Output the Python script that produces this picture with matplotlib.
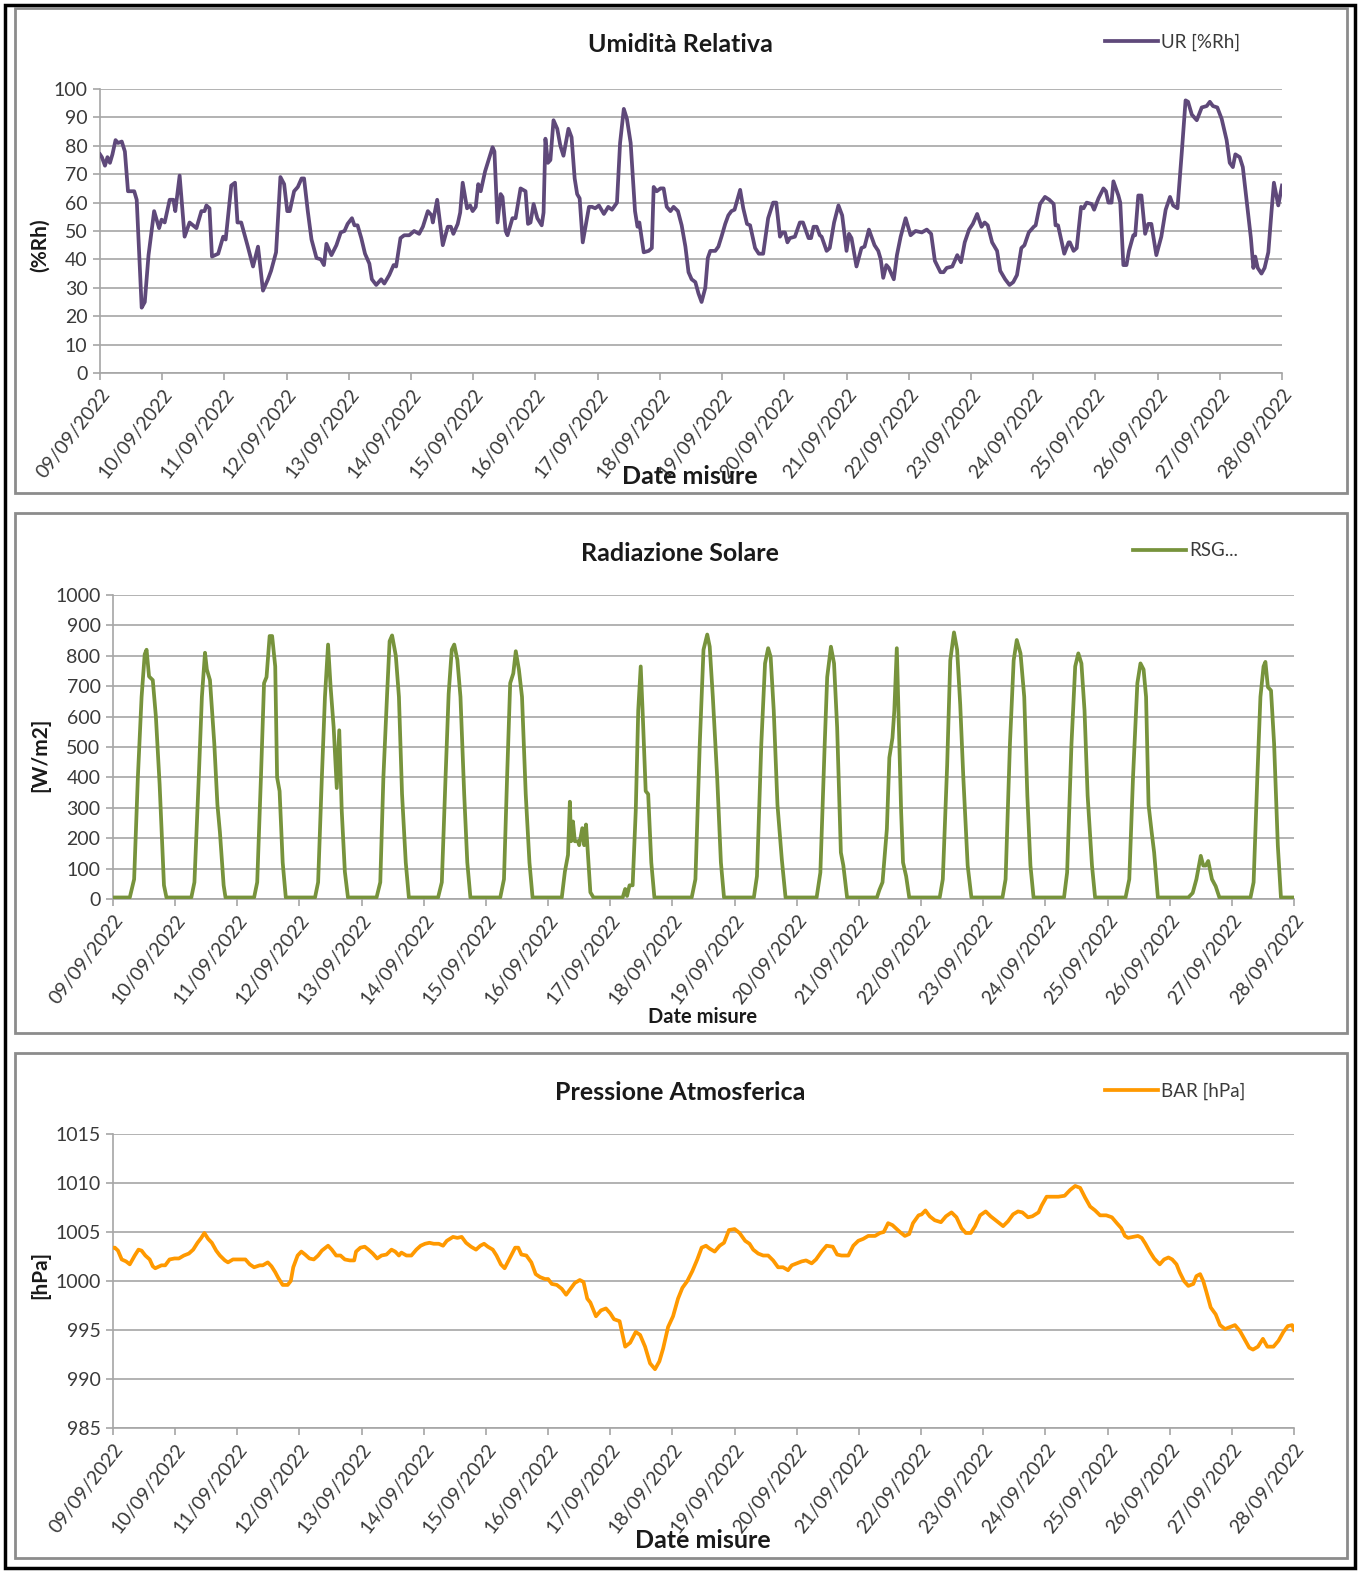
import matplotlib
matplotlib.use("Agg")
import matplotlib.pyplot as plt
from matplotlib.patches import Rectangle

plt.rcParams['font.family'] = ['Lato', 'DejaVu Sans']

# giorni dal 09/09/2022 00:00
date_labels = ["%02d/09/2022" % d for d in range(9, 29)]

# Umidita relativa (giorno, %Rh)
ur_pts = [
    (0.0, 77), (0.03, 76), (0.08, 73), (0.12, 76), (0.16, 74), (0.2, 77), (0.25, 82), (0.29, 81),
    (0.35, 81.5), (0.40, 78), (0.45, 64), (0.51, 64), (0.55, 64), (0.59, 61), (0.67, 23), (0.72, 25),
    (0.78, 41.5), (0.87, 57), (0.95, 51), (0.99, 54), (1.04, 53), (1.12, 61), (1.18, 61), (1.21, 57),
    (1.28, 69.5), (1.36, 48), (1.44, 53), (1.55, 51), (1.63, 57), (1.68, 57), (1.71, 59), (1.76, 58),
    (1.80, 41), (1.90, 42), (1.98, 48), (2.02, 47), (2.11, 66), (2.17, 67), (2.21, 53), (2.27, 53),
    (2.37, 45), (2.46, 37.5), (2.54, 44.5), (2.62, 29), (2.70, 33), (2.75, 36), (2.83, 42.5), (2.90, 69),
    (2.96, 66.5), (3.01, 57), (3.05, 57), (3.12, 64), (3.18, 65.5), (3.24, 68.5), (3.28, 68.5), (3.34, 57),
    (3.40, 47), (3.48, 40.5), (3.55, 40), (3.60, 38), (3.64, 45.5), (3.72, 41.5), (3.80, 45), (3.87, 49.5),
    (3.93, 50), (3.98, 52.5), (4.05, 54.5), (4.09, 52), (4.14, 52), (4.20, 47.5), (4.26, 42), (4.33, 38.5),
    (4.37, 33), (4.44, 31), (4.52, 33), (4.57, 31.5), (4.65, 34.5), (4.72, 38), (4.76, 37.5), (4.83, 47.5),
    (4.89, 48.5), (4.97, 48.5), (5.05, 50), (5.13, 49), (5.19, 51.5), (5.27, 57), (5.33, 55.5), (5.35, 53),
    (5.42, 61), (5.51, 45), (5.59, 51.5), (5.64, 51.5), (5.68, 49), (5.75, 52.5), (5.79, 56.5), (5.83, 67),
    (5.90, 58), (5.95, 59), (5.99, 57), (6.04, 58.5), (6.08, 66.5), (6.12, 64), (6.19, 71), (6.26, 76),
    (6.31, 79.5), (6.34, 78), (6.39, 53), (6.44, 63), (6.47, 62), (6.52, 50), (6.55, 48.5), (6.63, 54.5),
    (6.68, 54.5), (6.76, 65), (6.84, 64), (6.88, 52.5), (6.92, 53), (6.97, 59.5), (7.03, 54.5), (7.10, 52),
    (7.13, 56.5), (7.16, 82.5), (7.20, 74), (7.24, 75), (7.29, 89), (7.35, 86), (7.40, 80), (7.45, 76.5),
    (7.53, 86), (7.58, 83), (7.63, 68.5), (7.67, 63), (7.71, 61.5), (7.76, 46), (7.86, 58.5), (7.91, 58.5),
    (7.96, 58), (8.02, 59), (8.10, 56), (8.17, 58.5), (8.23, 57.5), (8.31, 60), (8.36, 81), (8.42, 93),
    (8.47, 89.5), (8.53, 81), (8.60, 57), (8.64, 51.5), (8.67, 53), (8.74, 42.5), (8.82, 43), (8.87, 44),
    (8.90, 65.5), (8.95, 64), (9.01, 65), (9.06, 65), (9.11, 58.5), (9.17, 57), (9.22, 58.5), (9.29, 57),
    (9.35, 52), (9.41, 44.5), (9.46, 35.5), (9.51, 33), (9.57, 32), (9.62, 28), (9.67, 25), (9.73, 30),
    (9.77, 40.5), (9.81, 43), (9.89, 43), (9.94, 44.5), (9.99, 48), (10.05, 52.5), (10.10, 55.5), (10.15, 57),
    (10.20, 57.5), (10.29, 64.5), (10.34, 58), (10.40, 52.5), (10.45, 52), (10.53, 44), (10.59, 42), (10.66, 42),
    (10.74, 54.5), (10.82, 60), (10.87, 60), (10.93, 48), (10.97, 49.5), (11.01, 49.5), (11.05, 46), (11.09, 47.5),
    (11.17, 48), (11.25, 53), (11.30, 53), (11.39, 47.5), (11.43, 47.5), (11.47, 51.5), (11.52, 51.5), (11.57, 48.5),
    (11.60, 48), (11.68, 43), (11.73, 44), (11.80, 53), (11.87, 59), (11.93, 55.5), (12.00, 43), (12.04, 49),
    (12.08, 47.5), (12.16, 37.5), (12.24, 44), (12.29, 44.5), (12.36, 50.5), (12.45, 45), (12.51, 43), (12.55, 40),
    (12.59, 33.5), (12.64, 38), (12.68, 37), (12.76, 33), (12.81, 41.5), (12.87, 48), (12.95, 54.5), (13.03, 48.5),
    (13.11, 50), (13.21, 49.5), (13.29, 50.5), (13.36, 49), (13.42, 39.5), (13.51, 35.5), (13.56, 35.5), (13.61, 37),
    (13.70, 37.5), (13.78, 41.5), (13.84, 39), (13.90, 46), (13.97, 50.5), (14.03, 52.5), (14.10, 56), (14.17, 51.5),
    (14.22, 53), (14.27, 52), (14.34, 46), (14.42, 43), (14.47, 36), (14.55, 33), (14.62, 31), (14.68, 32),
    (14.74, 34.5), (14.81, 44), (14.86, 45), (14.93, 49.5), (15.01, 51.5), (15.04, 52), (15.11, 59.5), (15.19, 62),
    (15.26, 61), (15.33, 59.5), (15.36, 52), (15.40, 52), (15.50, 42), (15.57, 46), (15.59, 46), (15.65, 43),
    (15.70, 44), (15.77, 58.5), (15.81, 58), (15.86, 60), (15.94, 59.5), (15.98, 57.5), (16.05, 61.5), (16.13, 65),
    (16.17, 64), (16.21, 60), (16.26, 60), (16.29, 67.5), (16.37, 62.5), (16.40, 60), (16.45, 38), (16.50, 38),
    (16.54, 43), (16.61, 48.5), (16.64, 48.5), (16.69, 62.5), (16.74, 62.5), (16.80, 49), (16.85, 52.5), (16.90, 52.5),
    (16.98, 41.5), (17.06, 48), (17.13, 57.5), (17.20, 62), (17.25, 59), (17.32, 58), (17.39, 78), (17.45, 96),
    (17.49, 95.5), (17.55, 91), (17.63, 89), (17.71, 93.5), (17.79, 94), (17.84, 95.5), (17.89, 94), (17.96, 93.5),
    (18.03, 89.5), (18.11, 82), (18.16, 74), (18.21, 72.5), (18.25, 77), (18.32, 76), (18.37, 72.5), (18.44, 59),
    (18.50, 47.5), (18.54, 37), (18.57, 41), (18.61, 37), (18.67, 35), (18.72, 37), (18.78, 42.5), (18.83, 56.5),
    (18.87, 67), (18.94, 59), (19.0, 66),
]

# Radiazione solare globale (giorno, W/m2)
rsg_pts = [
    (0.0, 5), (0.27, 5), (0.34, 65), (0.40, 400), (0.46, 665), (0.51, 805), (0.54, 820), (0.58, 732),
    (0.64, 720), (0.69, 600), (0.75, 377), (0.80, 145), (0.82, 45), (0.86, 5),
    (1.26, 5), (1.31, 55), (1.38, 400), (1.43, 665), (1.48, 810), (1.51, 755), (1.56, 720), (1.63, 510),
    (1.68, 310), (1.72, 220), (1.78, 45), (1.81, 5),
    (2.27, 5), (2.32, 55), (2.38, 400), (2.43, 710), (2.47, 730), (2.52, 865), (2.56, 865), (2.61, 765),
    (2.64, 400), (2.68, 355), (2.73, 120), (2.78, 5),
    (3.25, 5), (3.30, 55), (3.36, 400), (3.41, 665), (3.46, 837), (3.50, 700), (3.55, 565), (3.60, 365),
    (3.64, 555), (3.68, 290), (3.73, 90), (3.78, 5),
    (4.24, 5), (4.30, 55), (4.35, 400), (4.41, 675), (4.45, 848), (4.49, 867), (4.55, 800), (4.60, 665),
    (4.65, 345), (4.71, 120), (4.76, 5),
    (5.23, 5), (5.29, 55), (5.35, 400), (5.40, 675), (5.45, 820), (5.49, 837), (5.54, 787), (5.59, 665),
    (5.65, 345), (5.70, 120), (5.75, 5),
    (6.23, 5), (6.29, 65), (6.34, 400), (6.39, 710), (6.44, 742), (6.48, 815), (6.53, 755), (6.58, 665),
    (6.64, 345), (6.70, 120), (6.75, 5),
    (7.22, 5), (7.27, 90), (7.32, 145), (7.35, 320), (7.37, 190), (7.40, 255), (7.43, 190), (7.48, 190),
    (7.50, 177), (7.55, 233), (7.58, 177), (7.61, 245), (7.68, 22), (7.73, 5),
    (8.20, 5), (8.24, 33), (8.27, 10), (8.31, 45), (8.36, 45), (8.41, 290), (8.45, 620), (8.49, 765),
    (8.52, 620), (8.57, 355), (8.61, 345), (8.66, 120), (8.71, 5),
    (9.31, 5), (9.37, 65), (9.44, 510), (9.50, 820), (9.56, 870), (9.60, 830), (9.65, 665), (9.72, 400),
    (9.78, 120), (9.83, 5),
    (10.31, 5), (10.36, 75), (10.43, 510), (10.49, 775), (10.54, 825), (10.58, 797), (10.63, 620), (10.69, 310),
    (10.76, 130), (10.82, 5),
    (11.32, 5), (11.38, 87), (11.45, 510), (11.49, 730), (11.55, 830), (11.60, 775), (11.65, 565), (11.71, 153),
    (11.75, 110), (11.81, 5),
    (12.29, 5), (12.33, 30), (12.38, 55), (12.45, 230), (12.49, 465), (12.54, 530), (12.57, 620), (12.61, 825),
    (12.65, 510), (12.68, 285), (12.71, 120), (12.76, 75), (12.81, 5),
    (13.30, 5), (13.35, 65), (13.42, 440), (13.47, 785), (13.53, 877), (13.58, 820), (13.63, 640), (13.68, 400),
    (13.75, 110), (13.81, 5),
    (14.31, 5), (14.36, 65), (14.43, 510), (14.49, 785), (14.54, 852), (14.60, 808), (14.66, 665), (14.71, 340),
    (14.76, 110), (14.81, 5),
    (15.30, 5), (15.35, 87), (15.42, 510), (15.48, 765), (15.53, 808), (15.58, 775), (15.63, 620), (15.68, 340),
    (15.75, 110), (15.80, 5),
    (16.29, 5), (16.35, 65), (16.41, 400), (16.48, 710), (16.53, 775), (16.58, 755), (16.62, 665), (16.66, 310),
    (16.71, 220), (16.75, 153), (16.81, 5),
    (17.30, 5), (17.37, 20), (17.43, 65), (17.50, 142), (17.54, 110), (17.58, 110), (17.62, 125), (17.68, 65),
    (17.74, 42), (17.80, 5),
    (18.30, 5), (18.35, 55), (18.41, 400), (18.46, 665), (18.51, 765), (18.54, 780), (18.58, 697), (18.63, 686),
    (18.68, 510), (18.74, 175), (18.79, 5), (19.0, 5),
]

# Pressione atmosferica (giorno, hPa)
bar_pts = [
    (0.0, 1003.4), (0.03, 1003.4), (0.08, 1003.1), (0.14, 1002.2), (0.21, 1002.0), (0.27, 1001.7), (0.35, 1002.6),
    (0.41, 1003.2), (0.46, 1003.1), (0.52, 1002.6), (0.59, 1002.2), (0.64, 1001.5), (0.68, 1001.3), (0.78, 1001.6),
    (0.84, 1001.6), (0.91, 1002.2), (0.99, 1002.3), (1.06, 1002.3), (1.14, 1002.6), (1.22, 1002.8), (1.29, 1003.2),
    (1.36, 1003.9), (1.42, 1004.4), (1.47, 1004.9), (1.53, 1004.3), (1.59, 1003.9), (1.66, 1003.1), (1.72, 1002.6),
    (1.80, 1002.1), (1.85, 1001.9), (1.93, 1002.2), (2.00, 1002.2), (2.05, 1002.2), (2.13, 1002.2), (2.20, 1001.7),
    (2.27, 1001.4), (2.36, 1001.6), (2.41, 1001.6), (2.49, 1001.9), (2.55, 1001.5), (2.61, 1000.9), (2.66, 1000.3),
    (2.73, 999.6), (2.81, 999.6), (2.86, 1000.0), (2.90, 1001.4), (2.97, 1002.6), (3.03, 1003.0), (3.09, 1002.7),
    (3.16, 1002.3), (3.23, 1002.2), (3.30, 1002.6), (3.36, 1003.1), (3.46, 1003.6), (3.52, 1003.2), (3.59, 1002.6),
    (3.66, 1002.6), (3.73, 1002.2), (3.81, 1002.1), (3.88, 1002.1), (3.91, 1003.0), (3.98, 1003.4), (4.05, 1003.5),
    (4.11, 1003.2), (4.18, 1002.8), (4.25, 1002.3), (4.32, 1002.6), (4.40, 1002.7), (4.48, 1003.2), (4.54, 1003.0),
    (4.60, 1002.6), (4.64, 1002.9), (4.72, 1002.6), (4.80, 1002.6), (4.88, 1003.2), (4.95, 1003.6), (5.02, 1003.8),
    (5.09, 1003.9), (5.16, 1003.8), (5.24, 1003.8), (5.31, 1003.6), (5.37, 1004.1), (5.47, 1004.5), (5.54, 1004.4),
    (5.61, 1004.5), (5.68, 1003.9), (5.76, 1003.5), (5.84, 1003.2), (5.91, 1003.6), (5.97, 1003.8), (6.03, 1003.5),
    (6.11, 1003.2), (6.17, 1002.6), (6.24, 1001.7), (6.30, 1001.3), (6.39, 1002.4), (6.47, 1003.4), (6.52, 1003.4),
    (6.57, 1002.7), (6.65, 1002.6), (6.73, 1001.9), (6.80, 1000.7), (6.87, 1000.4), (6.95, 1000.2), (7.00, 1000.2),
    (7.06, 999.7), (7.14, 999.6), (7.22, 999.2), (7.29, 998.6), (7.36, 999.2), (7.43, 999.8), (7.51, 1000.1),
    (7.57, 999.9), (7.63, 998.2), (7.68, 997.8), (7.77, 996.4), (7.85, 997.0), (7.93, 997.2), (8.00, 996.7),
    (8.06, 996.1), (8.15, 995.9), (8.24, 993.3), (8.32, 993.7), (8.41, 994.8), (8.48, 994.5), (8.56, 993.3),
    (8.64, 991.6), (8.72, 991.0), (8.79, 991.8), (8.85, 993.1), (8.93, 995.3), (9.01, 996.4), (9.09, 998.2),
    (9.16, 999.3), (9.24, 1000.0), (9.32, 1001.0), (9.40, 1002.2), (9.47, 1003.4), (9.54, 1003.6), (9.60, 1003.3),
    (9.68, 1003.0), (9.76, 1003.6), (9.83, 1003.9), (9.91, 1005.2), (10.00, 1005.3), (10.08, 1004.9), (10.17, 1004.1),
    (10.24, 1003.8), (10.30, 1003.2), (10.38, 1002.8), (10.46, 1002.6), (10.54, 1002.6), (10.62, 1002.1), (10.70, 1001.4),
    (10.78, 1001.4), (10.86, 1001.1), (10.92, 1001.6), (11.00, 1001.8), (11.08, 1002.0), (11.15, 1002.1), (11.24, 1001.8),
    (11.31, 1002.2), (11.40, 1003.0), (11.48, 1003.6), (11.58, 1003.5), (11.65, 1002.7), (11.72, 1002.6), (11.83, 1002.6),
    (11.91, 1003.6), (11.99, 1004.1), (12.07, 1004.3), (12.15, 1004.6), (12.26, 1004.6), (12.34, 1004.9), (12.40, 1005.0),
    (12.47, 1005.9), (12.54, 1005.7), (12.61, 1005.3), (12.66, 1005.0), (12.74, 1004.6), (12.81, 1004.8), (12.87, 1005.9),
    (12.96, 1006.7), (13.01, 1006.8), (13.07, 1007.2), (13.14, 1006.6), (13.22, 1006.2), (13.32, 1006.0), (13.40, 1006.6),
    (13.49, 1007.0), (13.57, 1006.5), (13.65, 1005.4), (13.72, 1004.9), (13.80, 1004.9), (13.87, 1005.6), (13.95, 1006.7),
    (14.04, 1007.1), (14.12, 1006.6), (14.22, 1006.1), (14.32, 1005.6), (14.40, 1006.1), (14.48, 1006.8), (14.56, 1007.1),
    (14.63, 1007.0), (14.72, 1006.5), (14.79, 1006.6), (14.89, 1007.0), (14.94, 1007.7), (15.02, 1008.6), (15.10, 1008.6),
    (15.21, 1008.6), (15.31, 1008.7), (15.40, 1009.3), (15.48, 1009.7), (15.56, 1009.5), (15.64, 1008.5), (15.72, 1007.6),
    (15.80, 1007.2), (15.88, 1006.7), (15.98, 1006.7), (16.07, 1006.5), (16.15, 1005.9), (16.22, 1005.4), (16.28, 1004.6),
    (16.33, 1004.4), (16.41, 1004.5), (16.49, 1004.6), (16.55, 1004.4), (16.61, 1003.8), (16.68, 1003.0), (16.75, 1002.3),
    (16.84, 1001.7), (16.91, 1002.2), (16.98, 1002.4), (17.04, 1002.2), (17.11, 1001.7), (17.16, 1000.9), (17.23, 1000.0),
    (17.30, 999.5), (17.38, 999.7), (17.43, 1000.5), (17.49, 1000.7), (17.54, 1000.0), (17.59, 998.9), (17.66, 997.3),
    (17.74, 996.6), (17.81, 995.5), (17.89, 995.1), (17.97, 995.3), (18.05, 995.5), (18.13, 994.9), (18.21, 994.0),
    (18.28, 993.2), (18.34, 993.0), (18.42, 993.3), (18.50, 994.1), (18.57, 993.3), (18.67, 993.3), (18.75, 993.9),
    (18.83, 994.8), (18.90, 995.4), (18.97, 995.5), (19.0, 995.0),
]

W, H = 1359, 1573
fig = plt.figure(figsize=(W / 100, H / 100), dpi=100)


def fx(px):
    return px / W


def fy(py):
    return 1 - py / H


grid_c = '#a6a6a6'
text_c = '#3a3a3a'

panels = [
    dict(pts=ur_pts, color='#5f497a', title='Umidità Relativa', ylabel='(%Rh)', leg='UR [%Rh]',
         box=(15, 8, 1347, 493), area=(100, 89, 1282, 373), yt=range(0, 101, 10),
         title_y=44, ylab_y=245, leg_xy=(1105, 42), xl=(690, 476, 18)),
    dict(pts=rsg_pts, color='#77933c', title='Radiazione Solare', ylabel='[W/m2]', leg='RSG...',
         box=(15, 513, 1347, 1033), area=(113, 595, 1294, 899), yt=range(0, 1001, 100),
         title_y=553, ylab_y=755, leg_xy=(1133, 551), xl=(703, 1017, 14.5)),
    dict(pts=bar_pts, color='#ff9900', title='Pressione Atmosferica', ylabel='[hPa]', leg='BAR [hPa]',
         box=(15, 1053, 1347, 1558), area=(113, 1134, 1294, 1428), yt=range(985, 1016, 5),
         title_y=1093, ylab_y=1275, leg_xy=(1105, 1091), xl=(703, 1540, 18)),
]

# cornice esterna
fig.add_artist(Rectangle((fx(5), fy(1568)), fx(1350), (1563) / H, transform=fig.transFigure,
                         fill=False, edgecolor='black', linewidth=2.5))

for p in panels:
    x0, y0, x1, y1 = p['box']
    fig.add_artist(Rectangle((fx(x0), fy(y1)), (x1 - x0) / W, (y1 - y0) / H, transform=fig.transFigure,
                             fill=False, edgecolor='#8c8c8c', linewidth=2))
    a0, b0, a1, b1 = p['area']
    ax = fig.add_axes([fx(a0), fy(b1), (a1 - a0) / W, (b1 - b0) / H])
    t = [q[0] for q in p['pts']]
    v = [q[1] for q in p['pts']]
    line, = ax.plot(t, v, color=p['color'], linewidth=2.7, solid_joinstyle='round', zorder=3)
    ax.set_xlim(0, 19)
    ax.set_ylim(p['yt'][0], p['yt'][-1])
    ax.set_yticks(list(p['yt']))
    ax.set_xticks(range(20))
    ax.set_xticklabels(date_labels, rotation=52, ha='right', rotation_mode='anchor')
    ax.grid(axis='y', color=grid_c, linewidth=1.2)
    ax.set_axisbelow(True)
    for s in ('top', 'right'):
        ax.spines[s].set_visible(False)
    for s in ('left', 'bottom'):
        ax.spines[s].set_color(grid_c)
        ax.spines[s].set_linewidth(1.2)
    ax.tick_params(axis='both', direction='out', length=5, width=1.2, color=grid_c,
                   labelsize=14, labelcolor=text_c)
    ax.tick_params(axis='x', pad=4)
    ax.tick_params(axis='y', pad=4)

    fig.text(fx(680), fy(p['title_y']), p['title'], ha='center', va='center',
             fontsize=18, fontweight='bold', color='#1a1a1a')
    fig.text(fx(40), fy(p['ylab_y']), p['ylabel'], ha='center', va='center', rotation=90,
             fontsize=15, fontweight='bold', color='#1a1a1a')
    xl_x, xl_y, xl_s = p['xl']
    fig.text(fx(xl_x), fy(xl_y), 'Date misure', ha='center', va='center',
             fontsize=xl_s, fontweight='bold', color='#1a1a1a', zorder=5)
    lx, ly = p['leg_xy']
    fig.legend([line], [p['leg']], loc='center left', bbox_to_anchor=(fx(lx), fy(ly)),
               frameon=False, fontsize=13.5, handlelength=2.8, handletextpad=0.2,
               borderpad=0, borderaxespad=0, labelcolor=text_c)

fig.savefig('out.png', dpi=100)
